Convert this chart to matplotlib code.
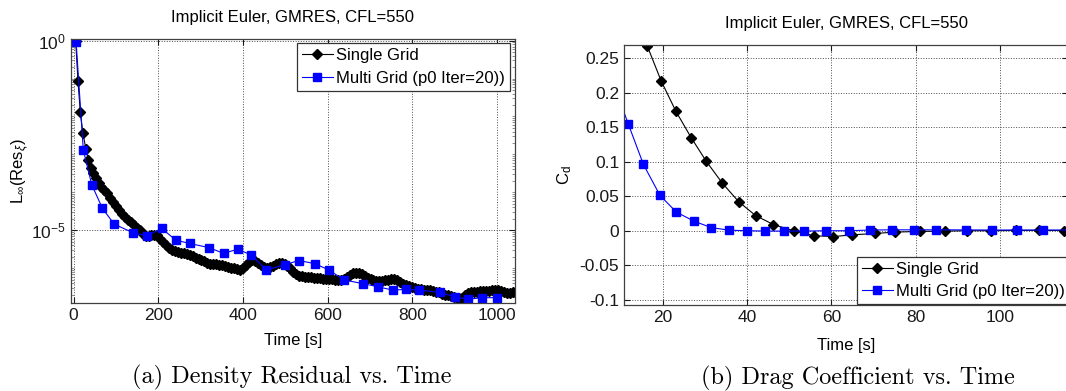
import matplotlib
matplotlib.use('Agg')
import matplotlib.pyplot as plt
from matplotlib import ticker
import numpy as np

plt.rcParams['font.family'] = ['Liberation Sans', 'DejaVu Sans']
plt.rcParams['axes.unicode_minus'] = False
plt.rcParams['mathtext.fontset'] = 'custom'
plt.rcParams['mathtext.rm'] = 'Liberation Sans'
plt.rcParams['mathtext.it'] = 'Liberation Sans:italic'

# =============================================================================
#                               Data                     #
# =============================================================================

TITLE = "Implicit Euler, GMRES, CFL=550"
LABELS = ["Single Grid", "Multi Grid (p0 Iter=20))"]

# (a) density residual, stored as log10 values
sg_time = [5, 10.5, 16, 22, 29, 35, 41, 47, 53, 60, 66, 72, 79, 86, 93, 100, 107, 114,
           121, 128, 135, 142, 149, 156, 163, 170, 177, 184, 191, 197, 204, 211, 218,
           225, 232, 239, 246, 253, 260, 267, 274, 281, 288, 295, 302, 309, 316, 323,
           330, 337, 344, 351, 358, 365, 372, 379, 386, 393, 400, 407, 414, 421, 428,
           435, 442, 449, 456, 463, 470, 477, 484, 491, 498, 505, 512, 519, 526, 533,
           540, 547, 554, 561, 568, 575, 582, 589, 596, 603, 610, 617, 624, 631, 638,
           645, 652, 659, 666, 673, 680, 687, 694, 701, 708, 715, 722, 729, 736, 743,
           750, 757, 764, 771, 778, 785, 792, 799, 806, 813, 820, 827, 834, 841, 848,
           855, 862, 869, 876, 883, 890, 897, 904, 911, 918, 925, 932, 939, 946, 953,
           960, 967, 974, 981, 988, 995, 1002, 1009, 1016, 1023, 1030, 1037, 1044]
sg_log_res = [0.0, -1.06, -1.89, -2.43, -2.85, -3.15, -3.36, -3.50, -3.62, -3.75, -3.85,
              -3.94, -4.03, -4.14, -4.25, -4.36, -4.47, -4.57, -4.65, -4.72, -4.79, -4.86,
              -4.93, -5.00, -5.10, -5.16, -5.16, -5.13, -5.12, -5.12, -5.22, -5.32, -5.39,
              -5.46, -5.51, -5.54, -5.57, -5.59, -5.61, -5.63, -5.65, -5.69, -5.73, -5.76,
              -5.79, -5.82, -5.86, -5.88, -5.89, -5.90, -5.92, -5.93, -5.95, -5.97, -5.99,
              -6.01, -6.03, -6.04, -6.01, -5.93, -5.84, -5.79, -5.80, -5.86, -5.93, -5.98,
              -6.00, -5.98, -5.94, -5.90, -5.87, -5.86, -5.88, -5.94, -6.01, -6.09, -6.16,
              -6.20, -6.22, -6.23, -6.23, -6.24, -6.25, -6.26, -6.27, -6.28, -6.29, -6.29,
              -6.30, -6.31, -6.32, -6.32, -6.29, -6.23, -6.17, -6.13, -6.12, -6.13, -6.16,
              -6.20, -6.25, -6.29, -6.32, -6.34, -6.34, -6.33, -6.32, -6.31, -6.30, -6.30,
              -6.32, -6.36, -6.41, -6.45, -6.48, -6.50, -6.52, -6.54, -6.55, -6.57, -6.58,
              -6.59, -6.60, -6.62, -6.64, -6.67, -6.70, -6.72, -6.74, -6.76, -6.78, -6.80,
              -6.80, -6.72, -6.65, -6.63, -6.62, -6.62, -6.61, -6.61, -6.60, -6.60, -6.59,
              -6.58, -6.58, -6.60, -6.63, -6.65, -6.65, -6.64, -6.65]

mg_time = [6, 23, 43, 68, 96, 141, 174, 208, 241, 274, 320, 354, 388, 420, 455, 498,
           532, 569, 603, 638, 683, 718, 753, 785, 816, 865, 900, 932, 965, 1000]
mg_log_res = [-0.03, -2.88, -3.80, -4.42, -4.84, -5.07, -5.15, -4.95, -5.26, -5.35, -5.46,
              -5.61, -5.50, -5.66, -6.05, -5.91, -5.80, -5.88, -6.05, -6.31, -6.41, -6.49,
              -6.58, -6.56, -6.58, -6.64, -6.76, -6.82, -6.78, -6.78]

# (b) drag coefficient
sg_cd_time = [12.5, 16.35, 19.6, 23.1, 26.7, 30.3, 34.1, 38.0, 42.0, 46.2, 51.0, 55.8,
              60.4, 64.8, 70.3, 75.0, 81.0, 87.0, 92.2, 97.9, 103.8, 109.3, 115.1]
sg_cd = [0.33, 0.267, 0.217, 0.173, 0.135, 0.1006, 0.069, 0.042, 0.022, 0.009, 0.0,
         -0.0072, -0.0085, -0.006, -0.004, -0.002, -0.001, -0.0005, 0.0, 0.0, 0.0005,
         0.0005, 0.0003]

mg_cd_time = [7.9, 11.84, 15.4, 19.3, 23.2, 27.4, 31.5, 35.7, 40.0, 44.3, 48.8, 53.6,
              58.7, 64.2, 69.2, 74.3, 79.6, 84.8, 92.0, 98.1, 104.1, 110.1, 116.5]
mg_cd = [0.22, 0.154, 0.096, 0.0514, 0.027, 0.0138, 0.0045, 0.0008, 0.0, -0.0005,
         -0.0005, -0.0005, 0.0, 0.0, 0.001, 0.0013, 0.0013, 0.0013, 0.0012, 0.001, 0.001,
         0.001, 0.001]

cd_ticks = [-0.1, -0.05, 0, 0.05, 0.1, 0.15, 0.2, 0.25]

_BLUE = (0.0, 0.0, 1.0)
_FS = 12
_TICK_FS = 12.5


def _style_axes(ax):
    """MATLAB-like box: inward ticks on all sides, dotted grid."""
    for sp in ax.spines.values():
        sp.set_color('0.25')
        sp.set_linewidth(0.9)
    ax.tick_params(which='both', direction='in', top=True, right=True,
                   labelsize=_TICK_FS, colors='0.1')
    ax.tick_params(which='major', length=4)
    ax.tick_params(which='minor', length=2, color='0.5')
    ax.grid(True, which='major', linestyle=':', color='0.3', linewidth=0.7)
    ax.set_axisbelow(True)


def _legend(ax, **kw):
    leg = ax.legend(fontsize=_FS, fancybox=False, framealpha=1, edgecolor='0.2',
                    handlelength=1.85, handletextpad=0.2, borderpad=0.3,
                    labelspacing=0.45, borderaxespad=0, **kw)
    leg.get_frame().set_linewidth(0.9)
    return leg


fig = plt.figure(figsize=(10.66, 3.91), dpi=100)

# ---- (a) Density residual ----
ax1 = fig.add_axes([0.0666, 0.225, 0.4165, 0.675])
ax1.semilogy(sg_time, 10.0 ** np.array(sg_log_res), '-', color='k', lw=0.8,
             marker='D', ms=5.5, label=LABELS[0])
ax1.semilogy(mg_time, 10.0 ** np.array(mg_log_res), '-', color=_BLUE, lw=0.8,
             marker='s', ms=5.5, label=LABELS[1])
ax1.set_xlim(-6, 1042)
ax1.set_ylim(1.2e-7, 1.1)
ax1.set_xticks([0, 200, 400, 600, 800, 1000])
ax1.set_yticks([1e-5, 1e0])
ax1.yaxis.set_minor_locator(ticker.LogLocator(base=10, subs=np.arange(1, 10), numticks=50))
ax1.yaxis.set_minor_formatter(ticker.NullFormatter())
_style_axes(ax1)
ax1.set_title(TITLE, fontsize=_FS, pad=12)
ax1.set_xlabel("Time [s]", fontsize=_FS, labelpad=7)
ax1.set_ylabel(r"L$_\infty$(Res$_\xi$)", fontsize=_FS, labelpad=0)
_legend(ax1, loc='upper right', bbox_to_anchor=(0.989, 0.984))

# ---- (b) Drag coefficient ----
ax2 = fig.add_axes([0.5854, 0.2192, 0.4165, 0.6657])
ax2.plot(sg_cd_time, sg_cd, '-', color='k', lw=0.8, marker='D', ms=5.5, label=LABELS[0])
ax2.plot(mg_cd_time, mg_cd, '-', color=_BLUE, lw=0.8, marker='s', ms=5.5, label=LABELS[1])
ax2.set_xlim(10.8, 116.1)
ax2.set_ylim(-0.108, 0.269)
ax2.set_xticks([20, 40, 60, 80, 100])
ax2.set_yticks(cd_ticks)
ax2.yaxis.set_major_formatter(ticker.FuncFormatter(lambda v, _: f"{v:g}"))
_style_axes(ax2)
ax2.set_title(TITLE, fontsize=_FS, pad=12)
ax2.set_xlabel("Time [s]", fontsize=_FS, labelpad=9)
ax2.set_ylabel(r"C$_\mathrm{d}$", fontsize=_FS)
_legend(ax2, loc='upper left', bbox_to_anchor=(0.524, 0.187))

# ---- sub-figure captions ----
fig.text(292 / 1066, 1 - 377 / 391, "(a) Density Residual vs. Time", family='cmr10',
         fontsize=17.5, ha='center', va='center')
fig.text(858 / 1066, 1 - 378 / 391, "(b) Drag Coefficient vs. Time", family='cmr10',
         fontsize=17.5, ha='center', va='center')

fig.savefig('out.png', dpi=100)
